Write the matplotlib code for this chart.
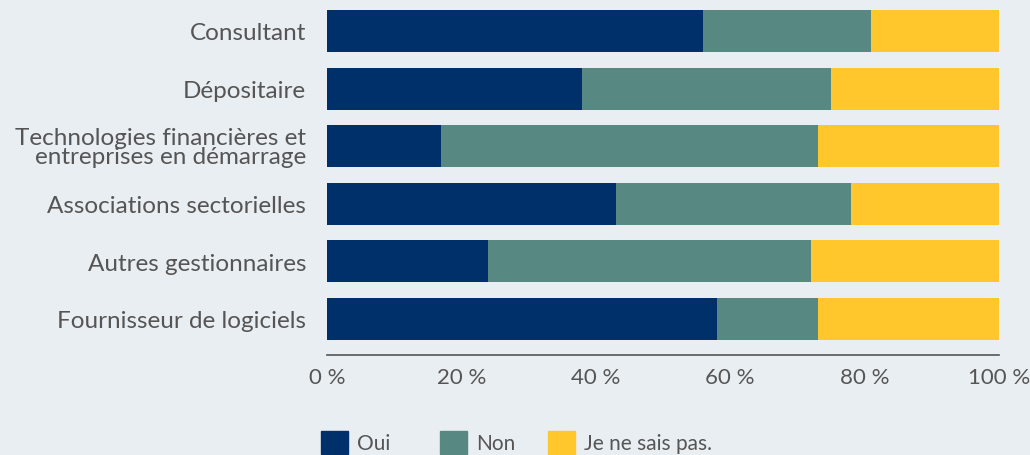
import numpy as np
import matplotlib.pyplot as plt
from matplotlib.patches import Patch

categories = ['Consultant', 'Dépositaire', 'Technologies financières et\nentreprises en démarrage',
              'Associations sectorielles', 'Autres gestionnaires', 'Fournisseur de logiciels']
oui = [56, 38, 17, 43, 24, 58]
non = [25, 37, 56, 35, 48, 15]
nsp = [19, 25, 27, 22, 28, 27]
series_names = ['Oui', 'Non', 'Je ne sais pas.']
colors = ['#00306A', '#588882', '#FFC72C']
bg = '#E9EEF2'
txt = '#555555'

plt.rcParams['font.family'] = ['Lato', 'DejaVu Sans']

fig = plt.figure(figsize=(10.3, 4.56), dpi=100, facecolor=bg)
ax = fig.add_axes([327/1030, 1-356/456, 672/1030, (356-3.2)/456])
ax.set_facecolor(bg)

y = np.arange(len(categories))
left = np.zeros(len(categories))
for vals, c in zip([oui, non, nsp], colors):
    ax.barh(y, vals, left=left, height=0.73, color=c)
    left += np.array(vals)

ax.set_xlim(0, 100)
ax.set_ylim(5.625, -0.5)
ax.set_yticks(y)
ax.set_yticklabels(categories, fontsize=17.5, color=txt, linespacing=0.9)
ax.set_xticks([0, 20, 40, 60, 80, 100])
ax.set_xticklabels(['0 %', '20 %', '40 %', '60 %', '80 %', '100 %'], fontsize=16, color=txt)
ax.tick_params(length=0, axis='y', pad=15)
ax.tick_params(length=0, axis='x', pad=9)
for s in ['top', 'right', 'left']:
    ax.spines[s].set_visible(False)
ax.spines['bottom'].set_color('#555555')
ax.spines['bottom'].set_linewidth(1.2)

# one legend entry per item, placed like the reference
legend_x = [321, 440, 548]
for xpx, c, n in zip(legend_x, colors, series_names):
    fig.legend(handles=[Patch(color=c, label=n)], loc='upper left',
               bbox_to_anchor=(xpx/1030, 1-432/456), frameon=False, fontsize=15,
               labelcolor=txt, handlelength=1.3, handleheight=1.3,
               handletextpad=0.45, borderpad=0, borderaxespad=0)

fig.savefig('out.png', dpi=100, facecolor=bg)
